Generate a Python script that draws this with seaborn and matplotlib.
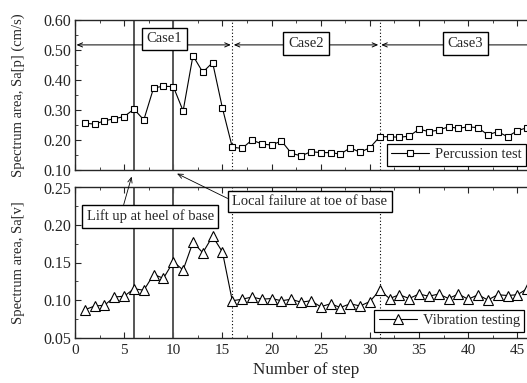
import matplotlib.pyplot as plt
from matplotlib.ticker import MultipleLocator
import pandas as pd
import seaborn as sns

# ── data ──────────────────────────────────────────────────────────────────────
steps = list(range(1, 47))
percussion = [0.256, 0.253, 0.264, 0.271, 0.278, 0.303, 0.267, 0.374, 0.379, 0.378,
              0.297, 0.481, 0.426, 0.458, 0.306, 0.176, 0.172, 0.200, 0.187, 0.183,
              0.197, 0.156, 0.147, 0.161, 0.158, 0.158, 0.153, 0.174, 0.159, 0.174,
              0.211, 0.211, 0.209, 0.213, 0.236, 0.228, 0.233, 0.244, 0.239, 0.244,
              0.241, 0.217, 0.228, 0.211, 0.231, 0.241]
vibration = [0.087, 0.092, 0.093, 0.104, 0.105, 0.115, 0.113, 0.134, 0.129, 0.151,
             0.140, 0.177, 0.163, 0.185, 0.164, 0.099, 0.101, 0.104, 0.101, 0.102,
             0.099, 0.101, 0.097, 0.099, 0.091, 0.095, 0.090, 0.095, 0.092, 0.098,
             0.113, 0.102, 0.107, 0.102, 0.108, 0.105, 0.108, 0.102, 0.108, 0.101,
             0.107, 0.100, 0.107, 0.106, 0.107, 0.115]
case_names = ["Case1", "Case2", "Case3"]
case_bounds = [0, 16, 31, 47]
case_label_x = [9.1, 23.5, 39.7]
event_steps = [6, 10]
event_labels = ["Lift up at heel of base", "Local failure at toe of base"]

df = pd.DataFrame({"step": steps, "percussion": percussion, "vibration": vibration})

# ── style ─────────────────────────────────────────────────────────────────────
sns.set_style("ticks")
plt.rcParams["font.family"] = ["Liberation Serif", "DejaVu Serif"]
plt.rcParams.update({
    "xtick.direction": "in", "ytick.direction": "in",
    "xtick.top": True, "ytick.right": True,
    "xtick.major.size": 4, "ytick.major.size": 4,
    "xtick.minor.size": 2.5, "ytick.minor.size": 2.5,
    "axes.linewidth": 1.0,
})

W, H = 527, 383


def box(l, t, r, b):
    return [l / W, 1 - b / H, (r - l) / W, (b - t) / H]


fig = plt.figure(figsize=(W / 100, H / 100), dpi=100)
ax1 = fig.add_axes(box(75, 20, 537, 170))
ax2 = fig.add_axes(box(75, 187.5, 537, 337.5))

sns.lineplot(data=df, x="step", y="percussion", ax=ax1, color="black", lw=0.8,
             marker="s", ms=5, mfc="white", mec="black", mew=0.8,
             label="Percussion test")
sns.lineplot(data=df, x="step", y="vibration", ax=ax2, color="black", lw=0.8,
             marker="^", ms=6.5, mfc="white", mec="black", mew=0.8,
             label="Vibration testing")

for ax in (ax1, ax2):
    ax.set_xlim(0, 47)
    ax.xaxis.set_major_locator(MultipleLocator(5))
    ax.xaxis.set_minor_locator(MultipleLocator(2.5))
    ax.tick_params(which="both", top=True, right=True)
    ax.tick_params(axis="x", labelsize=11, pad=4.5)
    ax.tick_params(axis="y", labelsize=11.5, pad=2.5)
    for s in event_steps:
        ax.axvline(s, color="#555555", lw=1.4, zorder=1)
    for s in case_bounds[1:3]:
        ax.axvline(s, color="black", lw=0.8, ls=(0, (1, 2)), zorder=1)
    ax.set_xlabel("")

ax1.set_ylim(0.10, 0.60)
ax1.yaxis.set_major_locator(MultipleLocator(0.10))
ax1.yaxis.set_minor_locator(MultipleLocator(0.05))
ax1.yaxis.set_major_formatter("{x:.2f}")
ax1.tick_params(labelbottom=False)
ax1.set_ylabel("Spectrum area, Sa[p] (cm/s)", fontsize=10.5)

ax2.set_ylim(0.05, 0.25)
ax2.yaxis.set_major_locator(MultipleLocator(0.05))
ax2.yaxis.set_minor_locator(MultipleLocator(0.025))
ax2.yaxis.set_major_formatter("{x:.2f}")
ax2.set_ylabel("Spectrum area, Sa[v]", fontsize=10.5)
ax2.set_xlabel("Number of step", fontsize=12.3)
ax2.xaxis.set_label_coords(0.5, -0.16)
for ax in (ax1, ax2):
    ax.yaxis.set_label_coords(-0.108, 0.5)

# legends
for ax, anchor in ((ax1, (0.675, 0.03)), (ax2, (0.648, 0.04))):
    ax.legend(loc="lower left", bbox_to_anchor=anchor, frameon=True, fancybox=False,
              edgecolor="black", framealpha=1, fontsize=10.5, handlelength=2.6,
              borderpad=0.3, borderaxespad=0, handletextpad=0.4)
    ax.get_legend().get_frame().set_linewidth(0.9)

# case arrows and labels
bbox_kw = dict(boxstyle="square,pad=0.33", fc="white", ec="black", lw=1.0)
arrow_y = 0.517
for i, name in enumerate(case_names):
    lo, hi = case_bounds[i], case_bounds[i + 1]
    ax1.annotate("", xy=(lo + 0.15, arrow_y), xytext=(hi - 0.15, arrow_y),
                 arrowprops=dict(arrowstyle="<->,head_length=0.35,head_width=0.15",
                                 lw=0.7, color="black", shrinkA=0, shrinkB=0),
                 annotation_clip=False)
    ty = 0.537 if i == 0 else 0.521
    ax1.text(case_label_x[i], ty, name, ha="center", va="center", fontsize=10.5,
             bbox=bbox_kw, zorder=5)

# event annotations (text in lower panel, arrows pointing up to the upper panel)
ev_box = dict(boxstyle="square,pad=0.3", fc="white", ec="black", lw=1.0)
ev_arrow = dict(arrowstyle="->,head_length=0.35,head_width=0.15",
                lw=0.6, color="black", shrinkA=0, shrinkB=0)
ax2.annotate(event_labels[0], xy=(5.76, 0.078), xycoords=ax1.transData,
             xytext=(7.66, 0.2115), textcoords="data",
             ha="center", va="center", fontsize=10.5, bbox=ev_box,
             arrowprops=dict(ev_arrow, relpos=(0.28, 1.0)),
             annotation_clip=False, zorder=6)
ax2.annotate(event_labels[1], xy=(10.38, 0.088), xycoords=ax1.transData,
             xytext=(23.9, 0.2314), textcoords="data",
             ha="center", va="center", fontsize=10.5, bbox=ev_box,
             arrowprops=dict(ev_arrow, relpos=(0.0, 0.55)),
             annotation_clip=False, zorder=6)

fig.savefig("out.png", dpi=100)
